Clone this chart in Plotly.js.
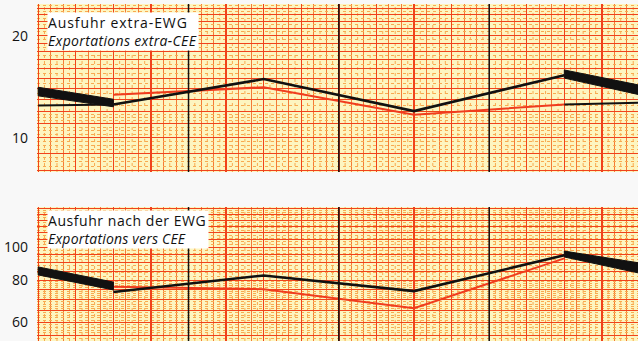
<!DOCTYPE html>
<html><head><meta charset="utf-8">
<script src="https://cdn.plot.ly/plotly-3.0.1.min.js"></script>
<style>
html,body{margin:0;padding:0;background:#f8f8f8}
.annotation[data-index="0"] text {letter-spacing:0.9px}
.annotation[data-index="1"] text {letter-spacing:0.35px}
.annotation[data-index="2"] text {letter-spacing:0.55px}
.annotation[data-index="3"] text {letter-spacing:0.2px}
</style>
</head><body><div id="chart" style="width:638px;height:341px"></div>
<script>
// x positions: years (0..4), values plotted at mid-year
const yearMid = [0.5, 1.5, 2.5, 3.5];
const yearBounds = [1, 2, 3];
const edgeLeftX = [0, 0.5];
const edgeRightX = [3.5, 4];

// Panel 1: Ausfuhr extra-EWG
const extraBlack = [12.55, 14.9, 12.0, 15.3];
const extraRed = [13.4, 14.1, 11.7, 12.55];
const extraThinLeft = [12.45, 12.55];
const extraThinRight = [12.55, 12.7];
const extraWedgeLeftTop = [14.1, 13.0];
const extraWedgeLeftBottom = [13.3, 12.35];
const extraWedgeRightTop = [15.85, 14.3];
const extraWedgeRightBottom = [15.0, 13.4];

// Panel 2: Ausfuhr nach der EWG
const nachBlack = [73.8, 82.5, 74.2, 94.6];
const nachRed = [76.4, 75.2, 66.1, 92.6];
const nachWedgeLeftTop = [87.4, 78.9];
const nachWedgeLeftBottom = [82.8, 74.8];
const nachWedgeRightTop = [97.3, 89.8];
const nachWedgeRightBottom = [93.5, 83.8];

// tick labels and panel titles
const topLabels = [10, 20];
const bottomLabels = [60, 80, 100];
const topTitle = ['Ausfuhr extra-EWG', 'Exportations extra-CEE'];
const bottomTitle = ['Ausfuhr nach der EWG', 'Exportations vers CEE'];

const BLACK = '#111111', RED = '#f03c1e';
const MAJOR = '#f0421c', MEDIUM = '#f47a38', MINOR = '#f8aa50';

function line(x, y, color, w, xa, ya) {
  return {x: x, y: y, xaxis: xa, yaxis: ya, mode: 'lines', type: 'scatter',
          line: {color: color, width: w}, hoverinfo: 'skip'};
}
function wedge(xs, top, bot, xa, ya) {
  return {x: [xs[0], xs[1], xs[1], xs[0], xs[0]], y: [top[0], top[1], bot[1], bot[0], top[0]],
          xaxis: xa, yaxis: ya, mode: 'lines', type: 'scatter', fill: 'toself',
          fillcolor: BLACK, line: {color: BLACK, width: 1}, hoverinfo: 'skip'};
}

const data = [
  line(yearMid, extraRed, RED, 2, 'x', 'y'),
  line(edgeLeftX, extraThinLeft, BLACK, 2, 'x', 'y'),
  line(edgeRightX, extraThinRight, BLACK, 2, 'x', 'y'),
  line(yearMid, extraBlack, BLACK, 2.6, 'x', 'y'),
  wedge(edgeLeftX, extraWedgeLeftTop, extraWedgeLeftBottom, 'x', 'y'),
  wedge(edgeRightX, extraWedgeRightTop, extraWedgeRightBottom, 'x', 'y'),
  line(yearMid, nachRed, RED, 2, 'x2', 'y2'),
  line(yearMid, nachBlack, BLACK, 2.6, 'x2', 'y2'),
  wedge(edgeLeftX, nachWedgeLeftTop, nachWedgeLeftBottom, 'x2', 'y2'),
  wedge(edgeRightX, nachWedgeRightTop, nachWedgeRightBottom, 'x2', 'y2')
];

// graph-paper grid values
function range(a, b, s) { const r = []; for (let v = a; v <= b + 1e-9; v += s) r.push(+v.toFixed(4)); return r; }
const topMajor = range(8, 25, 1);
const topMinor = [].concat(range(8, 12, 0.25), range(12.5, 25, 0.5)).filter(v => Math.abs(v - Math.round(v)) > 1e-6);
const botMajor = range(50, 135, 5);
const botMinor = [].concat(range(50, 80, 1), range(82, 134, 2)).filter(v => v % 5 !== 0);
const fineX = range(1/24, 4, 1/12); // dotted half-month lines

function txt(vals, labels) { return vals.map(v => labels.indexOf(v) >= 0 ? String(v) : ''); }

const xBase = {
  range: [-0.008, 3.99], showticklabels: false, ticks: '', zeroline: false, showline: false,
  tickmode: 'linear', tick0: 0, dtick: 0.25, gridcolor: MAJOR, gridwidth: 1.3,
  minor: {tickmode: 'linear', tick0: 0, dtick: 1/12, showgrid: true, gridcolor: MEDIUM, gridwidth: 1}
};
const FONT = '"Open Sans", Lato, sans-serif';
const tickFont = {family: FONT, size: 14, color: '#111'};

function titleBox(lines, topPx, widthPx) {
  return lines.map((t, i) => ({
    xref: 'paper', yref: 'paper', x: (47 - 37) / 601, y: (341 - topPx - i * 17.5) / 337,
    xanchor: 'left', yanchor: 'top', showarrow: false, align: 'left',
    width: widthPx, bgcolor: '#ffffff', borderpad: 0,
    font: {family: FONT, size: 14, color: '#111'},
    text: i === 0 ? t : '<i>' + t + '</i>'
  }));
}

const gridShapes = [];
[['x', 0.5015, 1], ['x2', 0, 0.3976]].forEach(([xa, y0, y1]) => {
  fineX.forEach(v => gridShapes.push({type: 'line', layer: 'below', xref: xa, yref: 'paper', x0: v, x1: v, y0: y0, y1: y1,
                                      line: {color: MINOR, width: 1, dash: 'dot'}}));
  yearBounds.forEach(b => gridShapes.push({type: 'line', layer: 'above', xref: xa, yref: 'paper', x0: b, x1: b, y0: y0, y1: y1,
                                           line: {color: BLACK, width: 1.5}}));
});

const layout = {
  width: 638, height: 341,
  margin: {l: 37, r: 0, t: 4, b: 0},
  paper_bgcolor: '#f8f8f8', plot_bgcolor: '#fdf5c0',
  showlegend: false,
  xaxis: Object.assign({}, xBase, {anchor: 'y', domain: [0, 1]}),
  xaxis2: Object.assign({}, xBase, {anchor: 'y2', domain: [0, 1]}),
  yaxis: {
    type: 'log', domain: [0.5015, 1], range: [0.9, 1.394], anchor: 'x',
    tickmode: 'array', tickvals: topMajor, ticktext: txt(topMajor, topLabels),
    ticks: '', ticklabelstandoff: 8, tickfont: tickFont,
    gridcolor: MAJOR, gridwidth: 1, zeroline: false, showline: false,
    minor: {tickmode: 'array', tickvals: topMinor, showgrid: true, gridcolor: MINOR, gridwidth: 1, griddash: 'dot'}
  },
  yaxis2: {
    type: 'log', domain: [0, 0.3976], range: [1.7237, 2.1178], anchor: 'x2',
    tickmode: 'array', tickvals: botMajor, ticktext: txt(botMajor, bottomLabels),
    ticks: '', ticklabelstandoff: 8, tickfont: tickFont,
    gridcolor: MAJOR, gridwidth: 1, zeroline: false, showline: false,
    minor: {tickmode: 'array', tickvals: botMinor, showgrid: true, gridcolor: MINOR, gridwidth: 1, griddash: 'dot'}
  },
  shapes: gridShapes,
  annotations: [].concat(titleBox(topTitle, 12, 150), titleBox(bottomTitle, 210, 160))
};

Plotly.newPlot('chart', data, layout, {staticPlot: true, displayModeBar: false});
</script></body></html>
